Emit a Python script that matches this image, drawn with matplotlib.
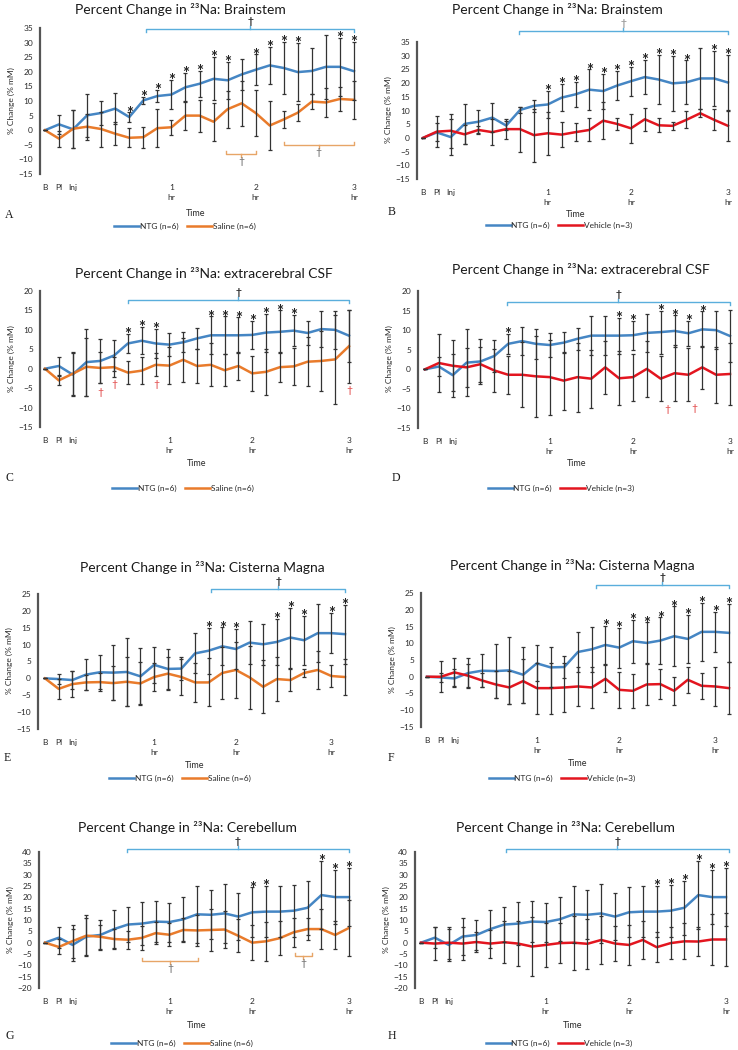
import numpy as np
import matplotlib.pyplot as plt
from matplotlib.lines import Line2D

W, H = 738, 1050
plt.rcParams['font.family'] = ['Lato', 'DejaVu Sans']

x_idx = np.arange(23)
tick_labels = ['B', 'PI', 'Inj', '1\nhr', '2\nhr', '3\nhr']
tick_pos_main = [0, 1, 2, 9, 15, 22]
tick_pos_cm = [0, 1, 2, 8, 14, 21]

# ---- Brainstem ----
ntg_bs = [0, 2.0, 0.3, 5.1, 5.9, 7.4, 4.5, 10.2, 11.7, 12.2, 14.7, 15.9, 17.6, 17.1, 19.1, 20.7, 22.2, 21.3, 19.9, 20.3, 21.7, 21.7, 20.2]
ntg_bs_err = [0, 3.3, 6.5, 7.4, 4.2, 5.3, 1.6, 1.2, 2.2, 5.0, 5.0, 4.5, 7.4, 6.4, 5.4, 5.3, 6.3, 9.0, 10.0, 8.0, 11.0, 10.0, 10.0]
sal_bs = [0, -2.9, 0.5, 1.2, 0.4, -1.2, -2.6, -2.4, 0.7, 1.0, 5.0, 5.0, 2.9, 7.2, 9.2, 5.9, 1.6, 3.7, 6.0, 9.8, 9.5, 10.7, 10.4]
sal_bs_err = [0, 2.7, 6.5, 4.5, 6.0, 4.0, 3.3, 3.6, 6.4, 2.5, 5.0, 5.5, 6.5, 6.3, 7.7, 8.0, 8.5, 3.0, 3.0, 2.5, 5.0, 4.0, 6.5]
veh_bs = [0, 2.3, 2.6, 1.3, 2.9, 2.1, 3.2, 3.2, 1.0, 1.7, 1.2, 2.1, 2.9, 6.3, 5.1, 3.5, 6.8, 4.6, 4.4, 6.6, 9.0, 6.6, 4.4]
veh_bs_err = [0, 5.8, 6.3, 3.5, 1.6, 4.7, 3.7, 8.2, 9.7, 7.9, 4.6, 3.4, 4.2, 6.8, 2.1, 5.2, 4.2, 2.5, 1.5, 3.1, 1.4, 3.8, 5.4]

# ---- extracerebral CSF ----
ntg_csf = [0, 0.7, -1.5, 1.7, 2.0, 3.4, 6.5, 7.2, 6.5, 6.2, 6.8, 7.8, 8.6, 8.6, 8.6, 8.7, 9.3, 9.5, 9.8, 9.2, 10.2, 10.0, 8.5]
ntg_csf_err = [0, 2.4, 5.5, 8.6, 5.7, 4.1, 2.5, 3.5, 3.8, 3.0, 2.6, 2.8, 4.9, 4.9, 4.6, 3.7, 4.9, 5.5, 4.0, 3.2, 4.6, 4.8, 6.7]
sal_csf = [0, -3.0, -1.3, 0.5, 0.2, 0.4, -1.0, -0.5, 1.0, 0.8, 2.3, 0.7, 1.0, -0.4, 0.7, -1.2, -0.8, 0.4, 0.6, 1.8, 2.0, 2.4, 5.8]
sal_csf_err = [0, 1.2, 5.5, 7.5, 4.0, 2.5, 3.0, 3.5, 3.0, 4.8, 5.7, 4.5, 5.5, 4.1, 3.7, 4.5, 5.9, 3.9, 4.8, 6.3, 7.7, 11.4, 9.4]
veh_csf = [0, 1.6, 0.9, 0.5, 1.3, -0.3, -1.4, -1.4, -1.8, -2.0, -2.9, -2.0, -2.4, 0.5, -2.3, -2.0, 0.1, -2.4, -1.0, -1.4, 0.5, -1.4, -1.2]
veh_csf_err = [0, 7.3, 6.5, 5.0, 4.5, 5.6, 4.8, 8.3, 10.4, 9.6, 7.4, 8.8, 7.4, 6.8, 6.9, 6.0, 7.1, 5.8, 7.2, 6.8, 5.5, 7.1, 8.0]

# ---- Cisterna Magna ----
ntg_cm = [0, -0.2, -0.5, 1.1, 1.8, 1.7, 1.9, 0.6, 4.0, 2.8, 2.9, 7.4, 8.2, 9.5, 8.7, 10.6, 10.1, 10.8, 12.1, 11.3, 13.4, 13.4, 13.1]
ntg_cm_err = [0, 1.4, 2.7, 4.5, 5.0, 8.1, 10.0, 8.3, 5.4, 6.0, 3.3, 5.9, 6.8, 5.6, 6.0, 6.4, 6.1, 6.9, 8.9, 7.2, 8.6, 5.9, 8.7]
sal_cm = [0, -3.1, -1.7, -1.2, -1.1, -1.4, -1.0, -1.5, 0.4, 1.4, 0.4, -1.2, -1.2, 1.6, 2.5, 0.3, -2.5, -0.2, -0.5, 1.6, 2.5, 0.7, 0.4]
sal_cm_err = [0, 3.0, 3.8, 2.3, 2.7, 5.0, 7.3, 6.5, 4.2, 4.9, 5.2, 5.9, 7.1, 7.6, 8.4, 9.3, 7.9, 6.4, 3.3, 1.2, 5.5, 3.2, 5.4]
veh_cm = [0, 0, 1.3, 0.3, -1.1, -2.3, -3.2, -1.3, -3.4, -3.4, -3.2, -2.9, -3.2, -0.6, -3.9, -4.2, -2.3, -2.2, -4.2, -0.9, -2.7, -2.9, -3.4]
veh_cm_err = [0, 4.7, 4.2, 3.5, 2.1, 3.9, 4.8, 6.5, 7.6, 7.6, 7.3, 5.7, 6.1, 4.0, 5.4, 5.0, 6.1, 4.4, 4.1, 3.9, 3.8, 5.9, 7.7]

# ---- Cerebellum ----
ntg_cb = [0, 2.2, -1.0, 2.7, 3.4, 6.0, 8.0, 8.4, 9.3, 9.1, 10.3, 12.5, 12.3, 12.9, 11.5, 13.4, 13.7, 13.7, 14.1, 15.4, 21.0, 20.1, 20.1]
ntg_cb_err = [0, 4.5, 7.0, 8.2, 6.6, 8.3, 7.8, 9.4, 9.2, 8.6, 9.7, 12.5, 10.9, 12.9, 10.2, 11.0, 11.3, 11.2, 11.4, 11.8, 15.0, 11.9, 12.9]
sal_cb = [0, -1.9, 0.7, 3.1, 2.6, 1.6, 1.3, 2.1, 4.2, 3.5, 5.6, 5.4, 5.6, 5.8, 3.0, 0, 0.6, 2.0, 4.6, 6.0, 6.0, 3.4, 6.5]
sal_cb_err = [0, 3.3, 7.3, 8.9, 5.3, 4.3, 4.0, 5.3, 5.0, 5.1, 5.2, 7.0, 9.3, 8.3, 7.3, 7.6, 8.7, 7.4, 6.5, 5.0, 8.8, 6.0, 12.3]
veh_cb = [0, -0.4, 0, -0.4, 0.3, -0.4, 0.2, -0.4, -1.7, -1.0, -0.2, 0, -0.5, 1.2, -0.4, -1.0, 1.2, -2.0, -0.2, 0.6, 0.5, 1.4, 1.4]
veh_cb_err = [0, 7.4, 7.0, 7.1, 4.4, 6.2, 9.3, 9.9, 12.9, 9.7, 8.8, 11.9, 11.1, 10.7, 7.9, 9.0, 8.2, 6.5, 7.0, 7.9, 6.5, 11.4, 11.7]

# significance marks
stars_A = [6, 7, 8, 9, 10, 11, 12, 13, 15, 16, 17, 18, 21, 22]
stars_B = [9, 10, 11, 12, 13, 14, 15, 16, 17, 18, 19, 21, 22]
stars_C = [6, 7, 8, 12, 13, 14, 15, 16, 17, 18]
stars_D = [6, 14, 15, 17, 18, 19, 20]
stars_E = [12, 13, 14, 17, 18, 19, 21, 22]
stars_F = [13, 14, 15, 16, 17, 18, 19, 20, 21, 22]
stars_G = [15, 16, 20, 21, 22]
stars_H = [17, 18, 19, 20, 21, 22]

C_NTG = '#4586C4'
C_SAL = '#E97B2B'
C_VEH = '#E3151F'
C_ERR = '#333333'
C_BRK = '#5AAEDC'
C_OBRK = '#E7A567'
C_TXT = '#2a2a2a'


def px_ax(axis_px, x0_px, x22_px, ytop_px, ybot_px, ymax, ymin):
    step = (x22_px - x0_px) / 22.0
    xlo = -(x0_px - axis_px) / step
    right_px = x22_px + 0.4 * step
    ax = fig.add_axes([axis_px / W, 1 - ybot_px / H, (right_px - axis_px) / W,
                       (ybot_px - ytop_px) / H])
    ax.set_xlim(xlo, 22.4)
    ax.set_ylim(ymin, ymax)
    ax.ppu = (ybot_px - ytop_px) / (ymax - ymin)  # pixels per y unit
    for s in ['top', 'right', 'bottom']:
        ax.spines[s].set_visible(False)
    ax.spines['left'].set_color('#555555')
    ax.spines['left'].set_linewidth(1.6)
    ax.set_yticks(np.arange(ymin, ymax + 1, 5))
    ax.tick_params(axis='y', length=0, pad=5, labelsize=6, labelcolor=C_TXT)
    ax.tick_params(axis='x', length=0, pad=7, labelsize=6, labelcolor=C_TXT)
    return ax


def bracket_top(ax, xa, xb, y, dag_color='#222222'):
    d = 3.0 / ax.ppu
    ax.plot([xa, xa, xb, xb], [y - d, y, y, y - d], color=C_BRK, lw=1, clip_on=False)
    xm = (xa + xb) / 2
    ax.plot([xm, xm], [y, y + d], color=C_BRK, lw=1, clip_on=False)
    ax.text(xm, y + d, '\u2020', ha='center', va='bottom', fontsize=7.5,
            color=dag_color, fontweight='bold', clip_on=False)


def bracket_bottom(ax, xa, xb, y):
    d = 3.0 / ax.ppu
    ax.plot([xa, xa, xb, xb], [y + d, y, y, y + d], color=C_OBRK, lw=1)
    xm = (xa + xb) / 2
    ax.plot([xm, xm], [y, y - d], color=C_OBRK, lw=1)
    ax.text(xm, y - d, '\u2020', ha='center', va='top', fontsize=7.5, color='#666666')


def panel(ax, ntg, ntg_err, ctl, ctl_err, ctl_color, ticks, stars):
    ax.plot(x_idx, ntg, color=C_NTG, lw=1.8, zorder=2)
    ax.plot(x_idx, ctl, color=ctl_color, lw=1.8, zorder=2)
    for y, e in [(ntg, ntg_err), (ctl, ctl_err)]:
        ax.errorbar(x_idx, y, yerr=e, fmt='none', ecolor=C_ERR, elinewidth=0.9,
                    capsize=1.4, capthick=0.9, zorder=3)
    ax.set_xticks(ticks)
    ax.set_xticklabels(tick_labels, linespacing=1.5)
    for i in stars:
        ax.annotate('*', (i, ntg[i] + ntg_err[i]), xytext=(0, -4.5),
                    textcoords='offset points', ha='center', va='baseline',
                    fontsize=12, fontweight='bold', color='#222222', annotation_clip=False)


def labels(title, tx, ty, time_x, time_y, letter, lx, ly, leg_x, leg_y, axis_px, ymid, ctl_name, ctl_color):
    fig.text(tx / W, 1 - ty / H, title, ha='center', va='center', fontsize=10, color='#1a1a1a')
    fig.text(time_x / W, 1 - time_y / H, 'Time', ha='center', va='center', fontsize=6.5, color=C_TXT)
    fig.text(lx / W, 1 - ly / H, letter, ha='left', va='center', fontsize=8.5,
             family='Liberation Serif', color='#1a1a1a')
    fig.text((axis_px - 29) / W, 1 - ymid / H, '% Change (% mM)', rotation=90,
             ha='center', va='center', fontsize=6, color=C_TXT)
    handles = [Line2D([], [], color=C_NTG, lw=1.8), Line2D([], [], color=ctl_color, lw=1.8)]
    fig.legend(handles, ['NTG (n=6)', ctl_name], loc='center',
               bbox_to_anchor=(leg_x / W, 1 - leg_y / H), ncol=2, frameon=False,
               fontsize=6, handlelength=3.0, handletextpad=0.1, columnspacing=1.0,
               labelcolor=C_TXT)


fig = plt.figure(figsize=(7.38, 10.5), dpi=100)

# A
ax = px_ax(40, 45, 354, 28, 174, 35, -15)
panel(ax, ntg_bs, ntg_bs_err, sal_bs, sal_bs_err, C_SAL, tick_pos_main, stars_A)
bracket_top(ax, 7.2, 22, 34.6)
bracket_bottom(ax, 12.9, 15, -8)
bracket_bottom(ax, 17, 22, -5)
labels('Percent Change in \u00b2\u00b3Na: Brainstem', 180, 10, 196, 213, 'A', 5, 215, 185, 226, 40, 101, 'Saline (n=6)', C_SAL)

# B
ax = px_ax(417, 423, 728, 42, 179, 35, -15)
panel(ax, ntg_bs, ntg_bs_err, veh_bs, veh_bs_err, C_VEH, tick_pos_main, stars_B)
bracket_top(ax, 6.9, 22, 39, dag_color='#999999')
labels('Percent Change in \u00b2\u00b3Na: Brainstem', 557, 10, 576, 215, 'B', 388, 212, 559, 225, 417, 110, 'Vehicle (n=3)', C_VEH)

# C
ax = px_ax(40, 45, 349, 291, 427, 20, -15)
panel(ax, ntg_csf, ntg_csf_err, sal_csf, sal_csf_err, C_SAL, tick_pos_main, stars_C)
bracket_top(ax, 6.0, 22, 17.8)
for xd, yd in [(4, -6), (5, -4), (8.07, -4), (22, -5.5)]:
    ax.text(xd, yd, '\u2020', ha='center', va='center', fontsize=7.5, color='#E04040')
labels('Percent Change in \u00b2\u00b3Na: extracerebral CSF', 204, 273, 197, 463, 'C', 5, 478, 183, 488, 40, 359, 'Saline (n=6)', C_SAL)

# D
ax = px_ax(418, 425, 730, 291, 428, 20, -15)
panel(ax, ntg_csf, ntg_csf_err, veh_csf, veh_csf_err, C_VEH, tick_pos_main, stars_D)
bracket_top(ax, 5.9, 22, 17.3)
for xd, yd in [(17.5, -10.3), (19.4, -9.9)]:
    ax.text(xd, yd, '\u2020', ha='center', va='center', fontsize=7.5, color='#E04040')
labels('Percent Change in \u00b2\u00b3Na: extracerebral CSF', 581, 269, 577, 463, 'D', 392, 478, 561, 488, 418, 359, 'Vehicle (n=3)', C_VEH)

# E
ax = px_ax(38, 45, 345, 594, 729, 25, -15)
panel(ax, ntg_cm, ntg_cm_err, sal_cm, sal_cm_err, C_SAL, tick_pos_cm, stars_E)
bracket_top(ax, 12.2, 22, 26.4)
labels('Percent Change in \u00b2\u00b3Na: Cisterna Magna', 202, 568, 195, 765, 'E', 4, 758, 180, 778, 38, 661, 'Saline (n=6)', C_SAL)

# F
ax = px_ax(421, 427, 729, 593, 727, 25, -15)
panel(ax, ntg_cm, ntg_cm_err, veh_cm, veh_cm_err, C_VEH, tick_pos_cm, stars_F)
bracket_top(ax, 12.3, 22, 27.5)
labels('Percent Change in \u00b2\u00b3Na: Cisterna Magna', 572, 565, 578, 764, 'F', 388, 758, 562, 778, 421, 660, 'Vehicle (n=3)', C_VEH)

# G
ax = px_ax(39, 45, 349, 852, 988, 40, -20)
panel(ax, ntg_cb, ntg_cb_err, sal_cb, sal_cb_err, C_SAL, tick_pos_main, stars_G)
bracket_top(ax, 5.9, 22, 41.5)
bracket_bottom(ax, 7, 11.1, -8)
bracket_bottom(ax, 18.1, 19.3, -6)
labels('Percent Change in \u00b2\u00b3Na: Cerebellum', 187, 827, 197, 1025, 'G', 5, 1036, 182, 1043, 39, 920, 'Saline (n=6)', C_SAL)

# H
ax = px_ax(415, 421, 726, 852, 988, 40, -20)
panel(ax, ntg_cb, ntg_cb_err, veh_cb, veh_cb_err, C_VEH, tick_pos_main, stars_H)
bracket_top(ax, 6.1, 22.2, 41.5)
labels('Percent Change in \u00b2\u00b3Na: Cerebellum', 565, 827, 573, 1025, 'H', 388, 1036, 559, 1043, 415, 920, 'Vehicle (n=3)', C_VEH)

fig.savefig('out.png', dpi=100, facecolor='white')
